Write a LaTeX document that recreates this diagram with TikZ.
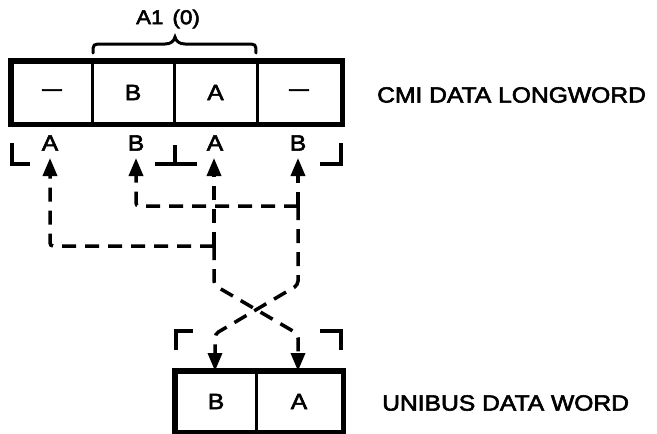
\documentclass[tikz,border=0pt]{standalone}
\usepackage{fontspec}
\setmainfont{Liberation Sans}[FakeBold=2.5]
\usetikzlibrary{arrows.meta}
\newcommand{\wideT}[1]{\scalebox{1.12}[1]{#1}}
\tikzset{
  x=1pt, y=-1pt,
  cell/.style={draw, line width=3pt, minimum height=61pt, inner sep=0pt,
    font=\fontsize{22}{22}\selectfont},
  lbl/.style={inner sep=0pt, font=\fontsize{22}{22}\selectfont},
  title/.style={inner sep=0pt, anchor=west, font=\fontsize{22}{22}\selectfont},
  outer/.style={line width=4.5pt},
  dsh/.style={line width=3.5pt, dash pattern=on 14pt off 9pt},
  tip/.style={-{Triangle[length=18pt,width=14pt]}},
  brk/.style={line width=3.5pt}
}
\begin{document}
\begin{tikzpicture}
\useasboundingbox (0,0) rectangle (657,434);
% top longword
\node[cell, minimum width=80pt] (c1) at (52,92.5) {\scalebox{1.6}[1]{–}};
\node[cell, minimum width=82pt] (c2) at (133,92.5) {\wideT{B}};
\node[cell, minimum width=83pt] (c3) at (215.5,92.5) {\wideT{A}};
\node[cell, minimum width=84pt] (c4) at (299,92.5) {\scalebox{1.6}[1]{–}};
\draw[outer] (c1.north west) rectangle (c4.south east);
\node[title] (t1) at (377,95) {\wideT{CMI DATA LONGWORD}};
% brace
\coordinate (bl) at (93,53);
\coordinate (br) at (256,53);
\draw[line width=3pt, line cap=round] (bl) .. controls (93,44) .. (103,44) -- (165,44)
  .. controls (171,44) and (174,41) .. (175,37)
  .. controls (176,41) and (179,44) .. (185,44) -- (246,44) .. controls (256,44) .. (br);
\node[lbl, font=\fontsize{20}{20}\selectfont] (a10) at (168,19) {\wideT{A1\hspace{8pt}(0)}};
% labels below
\node[lbl] (la1) at (50,143) {\wideT{A}};
\node[lbl] (lb1) at (136,143) {\wideT{B}};
\node[lbl] (la2) at (215,143) {\wideT{A}};
\node[lbl] (lb2) at (298,143) {\wideT{B}};
% brackets top
\draw[brk] (12,143) -- (12,164) -- (30,164);
\draw[brk] (341,143) -- (341,164) -- (320,164);
\draw[brk] (155,164) -- (197,164);
\draw[brk] (175,145) -- (175,164);
% bottom word
\node[cell, minimum width=80pt, minimum height=59pt] (u1) at (216,401.5) {\wideT{B}};
\node[cell, minimum width=86pt, minimum height=59pt] (u2) at (299,401.5) {\wideT{A}};
\draw[outer] (u1.north west) rectangle (u2.south east);
\node[title] (t2) at (382,403) {\wideT{UNIBUS DATA WORD}};
% brackets bottom
\draw[brk] (176,350) -- (176,331) -- (193,331);
\draw[brk] (341,350) -- (341,331) -- (320,331);
% connectors
\coordinate (pa) at (214,158);
\coordinate (pb) at (298,158);
\coordinate (pa1) at (50,158);
\coordinate (pb1) at (136,158);
\coordinate (ja) at (214,246);
\coordinate (jb) at (298,206);
\coordinate (ua) at (298,371);
\coordinate (ub) at (215,371);
\draw[dsh, tip, rounded corners=4pt] (ja) -- (214,285) -- (298,334) -- (ua);
\draw[dsh, tip] (ja) -- (pa);
\draw[dsh, tip, rounded corners=4pt] (jb) -- (298,285) -- (215,334) -- (ub);
\draw[dsh, tip] (jb) -- (pb);
\draw[dsh, tip, rounded corners=3pt] (ja) -- (50,246) -- (pa1);
\draw[dsh, tip, rounded corners=3pt] (jb) -- (136,206) -- (pb1);
\end{tikzpicture}
\end{document}
